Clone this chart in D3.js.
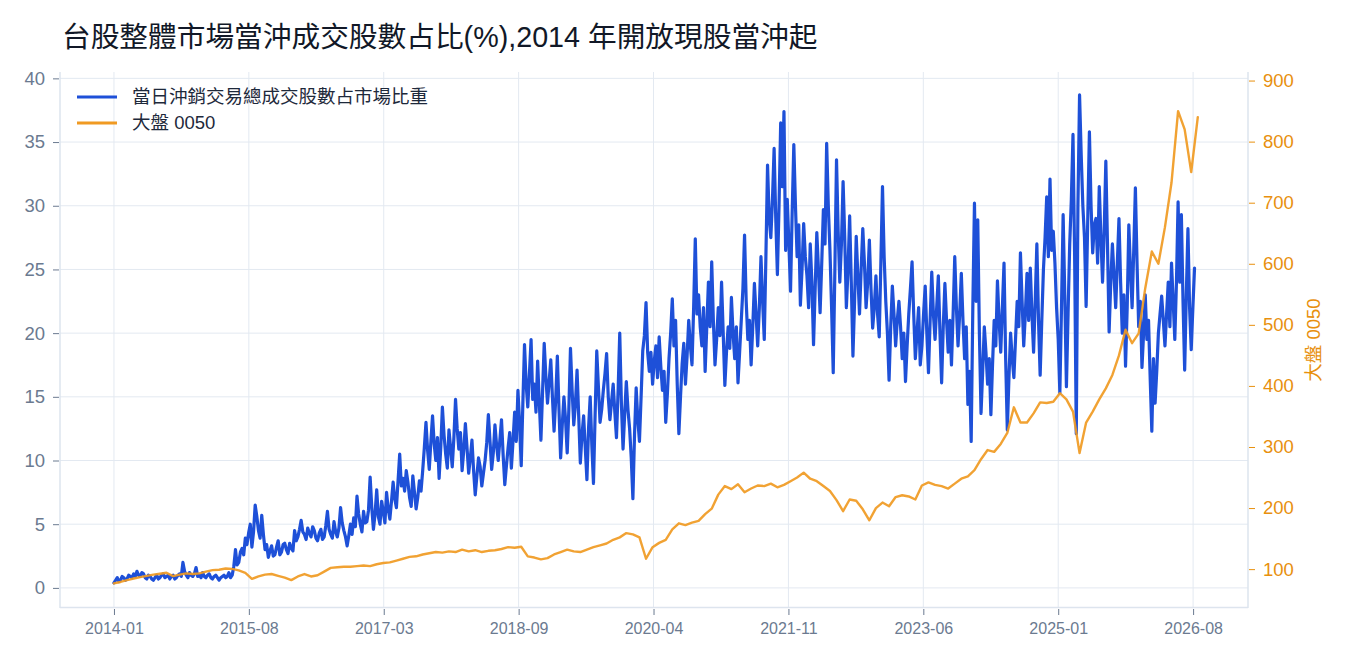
<!DOCTYPE html>
<html><head><meta charset="utf-8">
<script src="https://cdn.jsdelivr.net/npm/d3@7"></script>
<style>
body{margin:0;background:#fff;}
text{font-family:"Liberation Sans","Noto Sans CJK TC","Noto Sans",sans-serif;}
</style>
</head><body>
<svg id="chart" width="1350" height="660"></svg>
<script>
const titleText = "台股整體市場當沖成交股數占比(%),2014 年開放現股當沖起";
const seriesNames = ["當日沖銷交易總成交股數占市場比重", "大盤 0050"];
const rightAxisTitle = "大盤 0050";

const startDate = "2014-01-07";
const shareStepDays = 7;
const priceStepDays = 28;

const shareValues = [
0.4,0.6,0.8,0.5,0.6,0.9,0.8,0.6,0.7,1.0,0.9,0.8,1.1,0.9,1.3,1.0,0.9,1.2,1.1,0.8,
0.7,1.0,0.9,0.7,0.6,0.8,1.0,0.7,0.8,1.0,1.1,0.8,0.9,1.0,0.7,0.9,1.0,0.7,0.8,1.0,
1.1,0.9,2.0,1.3,1.0,0.8,1.2,1.0,0.9,1.1,1.6,0.9,1.0,0.8,1.2,0.9,0.8,1.0,1.1,0.8,
0.7,0.9,1.0,0.8,0.6,0.8,0.9,1.0,0.8,0.9,1.2,0.8,1.0,1.7,3.0,1.8,2.0,2.8,3.1,2.6,
3.9,3.4,
4.3,5.0,3.2,4.4,6.5,5.6,4.5,3.9,5.7,4.2,3.0,3.4,2.4,2.9,3.3,2.5,2.6,3.2,3.7,2.6,
2.8,3.4,3.5,3.0,2.7,3.5,3.1,2.9,4.5,3.7,4.0,4.6,5.3,4.4,4.2,3.8,4.7,4.3,4.0,4.8,
4.5,3.9,3.7,4.3,4.6,3.8,4.0,4.9,6.0,4.6,4.2,3.9,5.2,4.4,4.0,4.7,6.3,5.1,4.5,4.0,
3.3,4.1,5.0,4.2,5.5,4.8,7.2,5.8,5.0,4.4,6.0,5.1,5.2,6.1,8.7,6.3,4.6,5.8,7.7,5.6,
5.0,6.8,
6.0,5.1,7.5,6.2,5.4,6.8,8.3,7.0,6.3,8.4,10.5,8.0,8.6,7.6,9.2,8.3,7.1,6.4,8.8,7.5,
6.2,7.1,8.4,7.6,9.2,11.0,13.0,10.8,9.3,11.5,13.5,11.3,10.0,11.8,8.6,11.0,14.2,12.0,10.5,9.4,
12.4,11.0,9.5,11.8,14.8,12.5,10.9,12.2,9.2,10.8,12.9,11.0,9.0,10.2,11.6,9.2,7.3,8.8,10.2,9.5,
8.0,9.0,10.0,11.4,13.6,11.5,9.3,10.6,12.8,11.2,10.0,11.6,13.2,10.4,8.1,9.6,11.0,12.2,9.4,11.5,
13.8,11.5,
15.5,13.0,9.6,14.5,19.1,16.0,14.2,16.8,19.5,14.8,16.0,13.8,17.8,14.6,11.6,15.4,19.2,16.6,14.5,16.2,
17.9,15.0,12.3,14.8,18.2,14.0,10.2,12.8,15.0,13.2,10.6,14.0,18.8,15.5,12.8,14.4,17.1,13.5,9.8,12.0,
13.5,11.0,8.5,12.5,15.0,11.2,8.2,13.6,18.6,15.8,13.0,14.0,15.5,16.8,18.4,15.0,13.2,14.6,16.0,13.8,
11.8,15.5,20.0,14.5,10.9,13.6,16.2,14.0,12.5,10.2,7.0,12.0,15.7,13.2,11.5,15.0,18.6,19.8,22.4,18.5,
17.0,18.5,
16.0,17.8,19.0,16.5,19.7,17.4,15.5,17.0,13.0,15.2,18.0,20.0,22.7,19.0,21.0,16.0,12.1,15.0,17.6,19.2,
16.0,18.2,21.0,19.0,17.5,22.0,27.4,21.5,23.0,20.5,19.0,22.0,17.0,20.5,24.0,20.5,25.6,21.0,17.5,19.5,
22.0,19.8,24.0,20.0,15.9,18.5,20.5,18.8,22.8,20.0,18.0,20.5,16.1,18.5,21.0,23.5,27.7,22.5,19.5,21.0,
17.5,20.5,23.9,21.5,19.0,22.0,26.0,22.5,19.5,26.0,33.2,29.0,27.5,30.5,34.5,29.0,24.6,30.0,36.5,31.5,
37.4,26.5,
30.5,27.0,23.3,29.5,34.8,30.0,26.0,28.5,22.2,25.0,28.6,26.0,24.5,22.0,27.0,24.0,19.1,23.5,27.9,25.0,
21.6,25.5,29.7,27.0,34.9,30.0,26.5,22.0,16.9,25.0,33.6,28.0,24.0,27.0,31.9,27.5,22.0,25.0,29.2,24.0,
18.2,22.5,27.6,24.5,21.5,25.0,28.2,25.5,22.0,24.0,27.3,23.5,20.4,22.0,24.5,21.5,19.7,25.5,31.5,26.0,
22.5,20.0,16.3,20.5,23.7,21.5,19.0,21.0,22.5,20.5,18.0,20.0,16.2,19.0,21.5,23.5,25.6,21.5,18.0,20.0,
22.0,17.5,
19.0,21.5,23.7,20.0,16.9,21.0,24.8,21.5,19.5,22.0,24.5,20.0,16.1,20.5,23.9,21.0,18.5,21.0,17.5,21.5,
26.0,22.0,19.0,21.5,24.7,21.0,18.0,20.5,14.4,17.0,11.5,22.0,30.2,22.5,28.9,20.0,13.7,17.0,20.5,18.5,
16.0,18.0,13.6,17.5,21.0,19.0,24.1,21.0,18.5,22.0,25.5,18.0,12.4,16.5,20.0,18.0,16.5,19.5,22.5,20.5,
26.3,22.5,19.0,21.5,24.7,21.0,25.1,21.5,18.5,22.5,27.0,21.0,16.7,21.0,25.0,27.5,30.7,26.0,32.1,26.5,
28.0,25.5,
22.0,19.5,15.3,22.0,29.3,23.0,15.8,21.5,27.0,30.5,35.6,26.0,12.1,30.0,38.7,34.0,30.0,27.5,22.1,29.0,
35.8,30.0,26.3,28.5,29.0,25.5,31.5,27.5,24.0,28.0,33.5,27.0,20.1,24.0,27.0,24.5,22.0,25.5,29.0,24.0,
20.0,23.0,17.4,22.0,28.5,25.0,22.0,26.5,31.4,25.5,20.5,22.5,17.3,20.0,23.0,19.5,21.0,16.5,12.3,18.0,
14.5,17.0,20.0,21.5,22.9,21.0,19.0,21.5,24.0,20.5,25.5,22.5,19.5,24.0,30.3,24.0,29.3,22.5,17.1,23.0,
28.2,22.0,18.7,22.0,25.1
];

const priceValues = [
76.6,79,82,84.7,87,89,91,92.5,94,88.5,91,93,92,93,96,98.4,99,101,100.5,98,
94,84,88,91,92,89,86,82,88,92,88,90,96,102,103,104,104,105,106,105,108,110,
111,114,117,120,121,124,126,128,127,129,128,132,129,131,128,130,131,133,136,135,
136.6,121,119,116,118,124,128,132,129,128,132,136,139,142,148,152,159,157,152,117,136,143,
148,165,175,172,176,179,190,199,222,236,231,239,226,232,237,236,240,234,238,244,
250,258,248,244,236,228,213,195,214,212,198,180,200,209,203,218,221,219,214,237,
242,238,236,232,240,248,252,262,280,295,292,305,323,365,340,340,355,373,372,374,
388,378,358,290,340,358,378,396,418,450,492,470,486,560,620,600,660,733,850,820,750,840
];

const leftTicks = [0,5,10,15,20,25,30,35,40];
const rightTicks = [100,200,300,400,500,600,700,800,900];
const xTickDates = ["2014-01-07","2015-08-05","2017-03-02","2018-09-28","2020-04-25","2021-11-21","2023-06-19","2025-01-14","2026-08-12"];
const xTickLabels = ["2014-01","2015-08","2017-03","2018-09","2020-04","2021-11","2023-06","2025-01","2026-08"];
const xDomainDates = ["2013-05-22","2027-04-03"];
const leftDomain = [-1.5, 40.5];
const rightDomain = [38, 914];

const blue = "#1e50d8", orange = "#f09a22", orangeText = "#e8900e";
const slate = "#6b7a90", gridCol = "#e3e9f1", axisCol = "#dde4ee";
const plot = {left:60, right:1248, top:72, bottom:607};

const parse = d3.utcParse("%Y-%m-%d");
const t0 = parse(startDate);
const shareData = shareValues.map((v,i)=>({d:d3.utcDay.offset(t0, i*shareStepDays), v}));
const priceData = priceValues.map((v,i)=>({d:d3.utcDay.offset(t0, i*priceStepDays), v}));

const x = d3.scaleUtc().domain(xDomainDates.map(parse)).range([plot.left, plot.right]);
const yL = d3.scaleLinear().domain(leftDomain).range([plot.bottom, plot.top]);
const yR = d3.scaleLinear().domain(rightDomain).range([plot.bottom, plot.top]);

const svg = d3.select("#chart");

// title
svg.append("text").attr("x",62).attr("y",47).attr("font-size",28.7).attr("fill","#111827").text(titleText);

// grid
const grid = svg.append("g");
grid.selectAll(".hg").data(leftTicks).join("line")
  .attr("x1",plot.left).attr("x2",plot.right)
  .attr("y1",d=>yL(d)).attr("y2",d=>yL(d))
  .attr("stroke",gridCol).attr("stroke-width",1);
grid.selectAll(".vg").data(xTickDates).join("line")
  .attr("x1",d=>x(parse(d))).attr("x2",d=>x(parse(d)))
  .attr("y1",plot.top).attr("y2",plot.bottom)
  .attr("stroke",gridCol).attr("stroke-width",1);

// axis lines
svg.append("line").attr("x1",plot.left).attr("x2",plot.left).attr("y1",plot.top).attr("y2",plot.bottom+1).attr("stroke",axisCol).attr("stroke-width",1.5);
svg.append("line").attr("x1",plot.right).attr("x2",plot.right).attr("y1",plot.top).attr("y2",plot.bottom+1).attr("stroke",axisCol).attr("stroke-width",1.5);
svg.append("line").attr("x1",plot.left).attr("x2",plot.right).attr("y1",plot.bottom+0.5).attr("y2",plot.bottom+0.5).attr("stroke",axisCol).attr("stroke-width",1.5);

// axes
const axL = svg.append("g").attr("transform",`translate(${plot.left-1},0)`)
  .call(d3.axisLeft(yL).tickValues(leftTicks).tickSize(6).tickPadding(8));
axL.select(".domain").remove();
axL.selectAll("line").attr("stroke",slate);
axL.selectAll("text").attr("font-size",18.5).attr("fill",slate).attr("font-family",null);

const axR = svg.append("g").attr("transform",`translate(${plot.right+1},0)`)
  .call(d3.axisRight(yR).tickValues(rightTicks).tickSize(6).tickPadding(8));
axR.select(".domain").remove();
axR.selectAll("line").attr("stroke",orangeText);
axR.selectAll("text").attr("font-size",18.5).attr("fill",orangeText).attr("font-family",null);

const axB = svg.append("g").attr("transform",`translate(0,${plot.bottom+2})`)
  .call(d3.axisBottom(x).tickValues(xTickDates.map(parse)).tickFormat((d,i)=>xTickLabels[i]).tickSize(6).tickPadding(8));
axB.select(".domain").remove();
axB.selectAll("line").attr("stroke",slate);
axB.selectAll("text").attr("font-size",16).attr("fill",slate).attr("font-family",null);

// right axis title
svg.append("text").attr("transform","translate(1314,340) rotate(-90)")
  .attr("text-anchor","middle").attr("dy","0.35em").attr("font-size",18.5).attr("fill",orangeText).text(rightAxisTitle);

// lines
const lineL = d3.line().x(d=>x(d.d)).y(d=>yL(d.v));
const lineR = d3.line().x(d=>x(d.d)).y(d=>yR(d.v));
svg.append("path").datum(shareData).attr("d",lineL).attr("fill","none")
  .attr("stroke",blue).attr("stroke-width",3.2).attr("stroke-linejoin","round").attr("stroke-linecap","round");
svg.append("path").datum(priceData).attr("d",lineR).attr("fill","none")
  .attr("stroke",orange).attr("stroke-opacity",0.92).attr("stroke-width",2.4).attr("stroke-linejoin","round").attr("stroke-linecap","round");

// legend
const legend = svg.append("g");
const legItems = [{name:seriesNames[0], color:blue, y:97},{name:seriesNames[1], color:orange, y:123}];
legItems.forEach(it=>{
  legend.append("line").attr("x1",77).attr("x2",117).attr("y1",it.y).attr("y2",it.y).attr("stroke",it.color).attr("stroke-width",3);
  legend.append("text").attr("x",132).attr("y",it.y).attr("dy","0.35em").attr("font-size",18.5).attr("fill","#1e293b").text(it.name);
});
</script>
</body></html>
